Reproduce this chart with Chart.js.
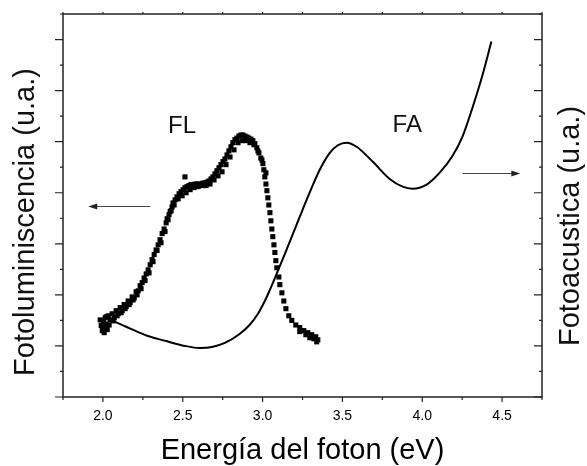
<!DOCTYPE html>
<html>
<head>
<meta charset="utf-8">
<script src="https://cdn.jsdelivr.net/npm/chart.js@4"></script>
<style>
  body { margin: 0; background: #fff; }
</style>
</head>
<body>
<canvas id="chart" width="587" height="466"></canvas>
<script>
const FONT = '"Liberation Sans", Arial, sans-serif';

// eje x (eV)
const xTicks = [2.0, 2.5, 3.0, 3.5, 4.0, 4.5];
const xTickLabels = ['2.0', '2.5', '3.0', '3.5', '4.0', '4.5'];

// Fotoluminiscencia (puntos)
const flX = [1.983, 1.989, 1.996, 2.002, 2.008, 2.014, 2.021, 2.027, 2.033, 2.046, 2.058, 2.071, 2.083, 2.096,
  2.108, 2.121, 2.133, 2.146, 2.158, 2.171, 2.183, 2.196, 2.208, 2.221, 2.233, 2.246, 2.258, 2.271, 2.283,
  2.296, 2.308, 2.321, 2.333, 2.346, 2.358, 2.371, 2.383, 2.396, 2.402, 2.414, 2.421, 2.433, 2.439, 2.452,
  2.464, 2.477, 2.489, 2.502, 2.514, 2.514, 2.527, 2.539, 2.552, 2.564, 2.577, 2.589, 2.602, 2.614, 2.627,
  2.639, 2.652, 2.664, 2.677, 2.689, 2.702, 2.714, 2.727, 2.739, 2.752, 2.764, 2.777, 2.789, 2.802, 2.814,
  2.827, 2.839, 2.852, 2.864, 2.877, 2.889, 2.902, 2.914, 2.927, 2.939, 2.952, 2.964, 2.977, 2.989, 3.002,
  3.008, 3.014, 3.021, 3.027, 3.033, 3.039, 3.046, 3.052, 3.058, 3.064, 3.071, 3.077, 3.083, 3.089, 3.102,
  3.108, 3.121, 3.133, 3.146, 3.164, 3.183, 3.208, 3.233, 3.258, 3.283, 3.308, 3.333, 3.346,
  2.008, 2.021, 2.039, 2.064, 2.089, 2.114, 2.139, 2.164, 2.189, 2.214, 2.239, 2.264, 2.289, 2.314, 2.339,
  2.364, 2.389, 2.408, 2.427, 2.446, 2.471, 2.496, 2.521, 2.546, 2.571, 2.596, 2.621, 2.646, 2.671, 2.696,
  2.721, 2.746, 2.771, 2.796, 2.821, 2.846, 2.871, 2.896, 2.921, 2.946, 2.971, 2.996, 3.021, 3.233, 3.271,
  3.296, 3.321, 3.339];
const flY = [1.51, 1.40, 1.30, 1.47, 1.36, 1.55, 1.43, 1.32, 1.59, 1.51, 1.63, 1.55, 1.69, 1.63,
  1.75, 1.69, 1.81, 1.77, 1.88, 1.85, 1.96, 1.94, 2.06, 2.08, 2.18, 2.24, 2.33, 2.41, 2.49,
  2.59, 2.69, 2.79, 2.88, 2.98, 3.08, 3.20, 3.29, 3.41, 3.49, 3.57, 3.63, 3.72, 3.80, 3.86,
  3.92, 3.98, 4.02, 4.06, 4.10, 4.31, 4.12, 4.14, 4.16, 4.16, 4.17, 4.17, 4.17, 4.17, 4.19,
  4.19, 4.21, 4.23, 4.27, 4.31, 4.37, 4.43, 4.49, 4.55, 4.61, 4.66, 4.74, 4.82, 4.90, 4.98,
  5.04, 5.07, 5.11, 5.13, 5.13, 5.11, 5.09, 5.07, 5.05, 5.02, 4.96, 4.88, 4.78, 4.68, 4.57,
  4.45, 4.31, 4.17, 4.04, 3.90, 3.76, 3.61, 3.45, 3.29, 3.14, 2.98, 2.83, 2.67, 2.53, 2.35,
  2.20, 2.04, 1.88, 1.73, 1.59, 1.50, 1.41, 1.36, 1.30, 1.26, 1.22, 1.18, 1.12,
  1.26, 1.57, 1.41, 1.49, 1.59, 1.65, 1.73, 1.81, 1.90, 2.00, 2.12, 2.28, 2.43, 2.65, 2.87,
  3.02, 3.24, 3.47, 3.65, 3.76, 3.88, 3.94, 4.00, 4.06, 4.10, 4.12, 4.14, 4.14, 4.17, 4.25,
  4.33, 4.41, 4.55, 4.70, 4.84, 4.98, 5.02, 5.02, 4.98, 4.94, 4.82, 4.64, 4.39, 1.28, 1.22,
  1.16, 1.14, 1.08];

// Fotoacustica (linea)
const faX = [2.002, 2.077, 2.171, 2.277, 2.390, 2.514, 2.608, 2.683, 2.764, 2.858, 2.921, 2.971, 3.014,
  3.046, 3.089, 3.139, 3.183, 3.233, 3.296, 3.358, 3.421, 3.471, 3.527, 3.589, 3.689, 3.796, 3.877,
  3.939, 4.027, 4.108, 4.189, 4.252, 4.314, 4.377, 4.433];
const faY = [1.59, 1.47, 1.34, 1.20, 1.10, 1.00, 0.96, 0.98, 1.06, 1.24, 1.42, 1.63, 1.88,
  2.10, 2.42, 2.80, 3.14, 3.53, 4.01, 4.45, 4.78, 4.93, 4.98, 4.90, 4.61, 4.27, 4.12,
  4.08, 4.16, 4.39, 4.72, 5.10, 5.66, 6.30, 6.96];

const xTitle = 'Energía del foton (eV)';
const yLeftTitle = 'Fotoluminiscencia (u.a.)';
const yRightTitle = 'Fotoacustica (u.a.)';

// etiquetas y flechas dentro del grafico (en unidades de datos)
const notes = [
  { text: 'FL', x: 2.408, y: 5.17 },
  { text: 'FA', x: 3.814, y: 5.19 }
];
const arrows = [
  { from: 2.296, to: 1.908, y: 3.74 },
  { from: 4.252, to: 4.614, y: 4.38 }
];

const framePlugin = {
  id: 'frame',
  afterDraw(chart) {
    const { ctx, chartArea: a, scales: { x, y } } = chart;
    ctx.save();
    ctx.strokeStyle = '#222';
    ctx.lineWidth = 1.5;
    ctx.strokeRect(a.left, a.top, a.right - a.left, a.bottom - a.top);

    ctx.lineWidth = 1.2;
    ctx.beginPath();
    for (let i = 0; i <= 12; i++) {
      const v = 1.75 + i * 0.25;
      const px = x.getPixelForValue(v);
      const major = i % 2 === 1;
      ctx.moveTo(px, a.bottom);
      ctx.lineTo(px, a.bottom + (major ? 5 : 3));
      ctx.moveTo(px, a.top);
      ctx.lineTo(px, a.top - 2);
    }
    for (let i = 0; i <= 15; i++) {
      const py = y.getPixelForValue(i * 0.5);
      const major = i % 2 === 0;
      ctx.moveTo(a.left, py);
      ctx.lineTo(a.left - (major ? 8 : 3), py);
      ctx.moveTo(a.right, py);
      ctx.lineTo(a.right - (major ? 8 : 3), py);
    }
    ctx.stroke();

    // flechas
    ctx.strokeStyle = '#444';
    ctx.fillStyle = '#222';
    ctx.lineWidth = 1;
    arrows.forEach(ar => {
      const x0 = x.getPixelForValue(ar.from);
      const x1 = x.getPixelForValue(ar.to);
      const py = Math.round(y.getPixelForValue(ar.y)) + 0.5;
      const dir = x1 > x0 ? 1 : -1;
      ctx.beginPath();
      ctx.moveTo(x0, py);
      ctx.lineTo(x1 - dir * 6, py);
      ctx.stroke();
      ctx.beginPath();
      ctx.moveTo(x1, py);
      ctx.lineTo(x1 - dir * 9, py - 3);
      ctx.lineTo(x1 - dir * 9, py + 3);
      ctx.closePath();
      ctx.fill();
    });

    // FL / FA
    ctx.fillStyle = '#111';
    ctx.font = '24px ' + FONT;
    ctx.textBaseline = 'alphabetic';
    ctx.textAlign = 'left';
    notes.forEach(n => ctx.fillText(n.text, x.getPixelForValue(n.x), y.getPixelForValue(n.y)));

    // titulos verticales
    ctx.font = '29px ' + FONT;
    ctx.textAlign = 'center';
    ctx.save();
    ctx.translate(34, 222);
    ctx.rotate(-Math.PI / 2);
    ctx.fillText(yLeftTitle, 0, 0);
    ctx.restore();
    ctx.save();
    ctx.translate(579, 226);
    ctx.rotate(-Math.PI / 2);
    ctx.fillText(yRightTitle, 0, 0);
    ctx.restore();

    ctx.restore();
  }
};

new Chart(document.getElementById('chart'), {
  type: 'scatter',
  data: {
    datasets: [
      {
        label: 'FA',
        data: faX.map((v, i) => ({ x: v, y: faY[i] })),
        yAxisID: 'y2',
        showLine: true,
        borderColor: '#000',
        borderWidth: 2,
        pointRadius: 0,
        cubicInterpolationMode: 'monotone',
        fill: false
      },
      {
        label: 'FL',
        data: flX.map((v, i) => ({ x: v, y: flY[i] })),
        yAxisID: 'y',
        pointStyle: 'rect',
        pointRadius: 3.6,
        backgroundColor: '#000',
        borderColor: '#000',
        borderWidth: 0
      }
    ]
  },
  options: {
    responsive: false,
    animation: false,
    devicePixelRatio: 1,
    layout: { padding: { left: 63, right: 45, top: 14, bottom: 0 } },
    plugins: { legend: { display: false }, tooltip: { enabled: false } },
    scales: {
      x: {
        type: 'linear',
        min: 1.75,
        max: 4.75,
        afterBuildTicks: scale => { scale.ticks = xTicks.map(v => ({ value: v })); },
        afterFit: scale => { scale.height = 69; },
        grid: { display: false, drawTicks: false },
        border: { display: false },
        ticks: {
          color: '#000',
          padding: 11,
          font: { family: FONT, size: 14 },
          callback: (v) => xTickLabels[xTicks.indexOf(v)]
        },
        title: {
          display: true,
          text: xTitle,
          color: '#000',
          font: { family: FONT, size: 29, lineHeight: 1 },
          padding: { top: 0, bottom: 1 }
        }
      },
      y: { display: false, min: 0, max: 7.5 },
      y2: { display: false, min: 0, max: 7.5, position: 'right' }
    }
  },
  plugins: [framePlugin]
});
</script>
</body>
</html>
